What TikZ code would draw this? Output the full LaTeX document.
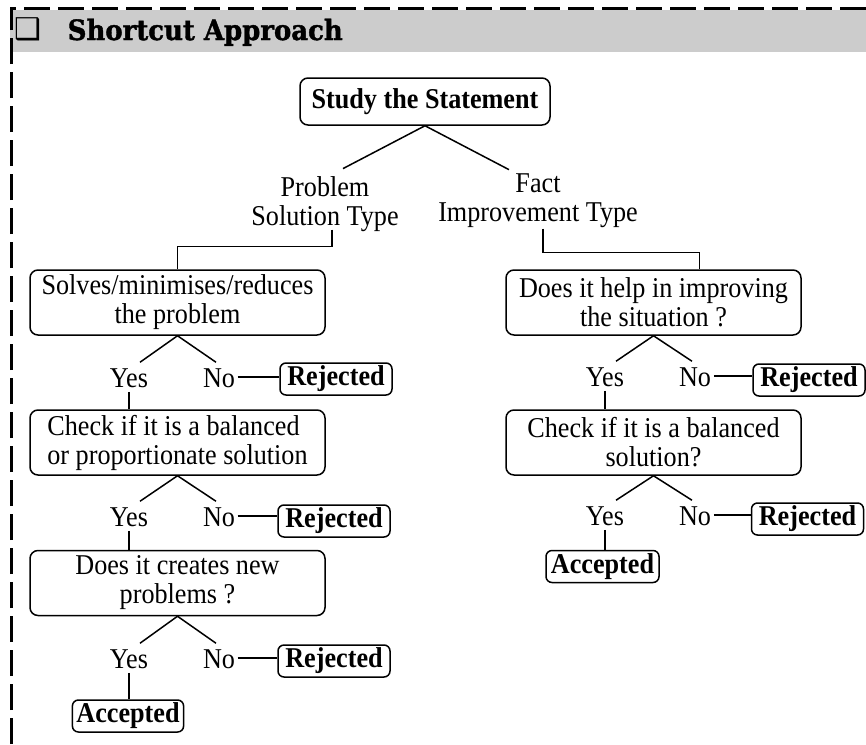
\documentclass[tikz,border=0pt]{standalone}
\usepackage{fontspec}
\usepackage{graphicx}
\setmainfont{Liberation Serif}[FakeStretch=0.912]
\newfontfamily\titlefont{DejaVu Serif}[UprightFont={* Bold}, FakeBold=1.5]
\newfontfamily\symfont{DejaVu Sans}
\usetikzlibrary{calc}
\begin{document}
\begin{tikzpicture}[x=1pt,y=-1pt, line width=1.5pt,
  font=\fontsize{28.7}{29}\selectfont,
  bigbox/.style={draw, rounded corners=8pt, minimum width=295pt, minimum height=65pt, align=center, inner sep=0pt},
  endbox/.style={draw, rounded corners=6pt, minimum height=32pt, inner xsep=4pt, inner ysep=0pt, font=\fontsize{28.7}{29}\selectfont\bfseries},
  yn/.style={inner xsep=2pt, inner ysep=4pt, text height=20pt, text depth=0pt, anchor=base},
  lbl/.style={align=center, inner sep=0pt}
  ]
\useasboundingbox (0,0) rectangle (866,744);
\fill[white] (0,0) rectangle (866,744);
% header
\fill[gray!40] (10,10) rectangle (866,52);
\draw[line width=3pt, dash pattern=on 26pt off 8pt] (11.5,744) -- (11.5,8.5) -- (866,8.5);
\node[inner sep=0pt, font=\symfont\fontsize{30}{30}\selectfont] (chk) at (28,29) {❑};
\node[anchor=base west, inner sep=0pt] (title) at (67,40) {\resizebox{275pt}{\height}{\titlefont\fontsize{28}{28}\selectfont Shortcut Approach}};

% root
\node[draw, rounded corners=8pt, minimum width=250pt, minimum height=47pt, inner sep=0pt, font=\fontsize{28.7}{29}\selectfont\bfseries] (st) at (425,101.5) {Study the Statement};
\node[lbl] (pst) at (325,204.3) {Problem\\Solution Type};
\node[lbl] (fit) at (538,200.8) {Fact\\Improvement Type};
\draw (st.south) -- ($(pst.north)+(18,-7.4)$);
\draw (st.south) -- ($(fit.north)+(-29,-3.4)$);

% boxes
\node[bigbox] (b1) at (177.5,302.5) {Solves/minimises/reduces\\the problem};
\node[bigbox, align=left] (b2) at (177.5,442.5) {Check if it is a balanced\\or proportionate solution};
\node[bigbox] (b3) at (177.5,583) {Does it creates new\\problems ?};
\node[bigbox] (r1) at (653.5,302.5) {Does it help in improving\\the situation ?};
\node[bigbox] (r2) at (653.5,442.5) {Check if it is a balanced\\solution?};

\draw ($(pst.south)+(7,-3)$) -- ++(0,17) -| (b1.north);
\draw ($(fit.south)+(5,0)$) -- ++(0,24) -| ($(r1.north)+(46,0)$);

% yes / no
\node[yn] (y1) at (129,387) {Yes};
\node[yn] (n1) at (219,387) {No};
\node[yn] (y2) at (129,526) {Yes};
\node[yn] (n2) at (219,526) {No};
\node[yn] (y3) at (129,668) {Yes};
\node[yn] (n3) at (219,668) {No};
\node[yn] (ry1) at (605,386) {Yes};
\node[yn] (rn1) at (695,386) {No};
\node[yn] (ry2) at (605,525) {Yes};
\node[yn] (rn2) at (695,525) {No};

% end boxes
\node[endbox, minimum width=112pt] (rj1) at (336,379) {Rejected};
\node[endbox, minimum width=112pt] (rj2) at (334,521) {Rejected};
\node[endbox, minimum width=112pt] (rj3) at (334,661) {Rejected};
\node[endbox, minimum width=112pt] (rrj1) at (809,380) {Rejected};
\node[endbox, minimum width=112pt] (rrj2) at (807.5,519) {Rejected};
\node[endbox, minimum width=110pt] (ac1) at (128,716) {Accepted};
\node[endbox, minimum width=113pt] (ac2) at (602.5,566.5) {Accepted};

% connectors
\foreach \b/\y/\n in {b1/y1/n1, b2/y2/n2, b3/y3/n3, r1/ry1/rn1, r2/ry2/rn2}{
  \draw (\b.south) -- ($(\y.north)+(11,0)$);
  \draw (\b.south) -- ($(\n.north)+(-3,0)$);
}
\draw (n1.east) -- (n1.east -| rj1.west);
\draw (n2.east) -- (n2.east -| rj2.west);
\draw (n3.east) -- (n3.east -| rj3.west);
\draw (rn1.east) -- (rn1.east -| rrj1.west);
\draw (rn2.east) -- (rn2.east -| rrj2.west);
\draw (y1.south) -- (y1.south |- b2.north);
\draw (y2.south) -- (y2.south |- b3.north);
\draw (y3.south) -- (y3.south |- ac1.north);
\draw (ry1.south) -- (ry1.south |- r2.north);
\draw (ry2.south) -- (ry2.south |- ac2.north);
\end{tikzpicture}
\end{document}
